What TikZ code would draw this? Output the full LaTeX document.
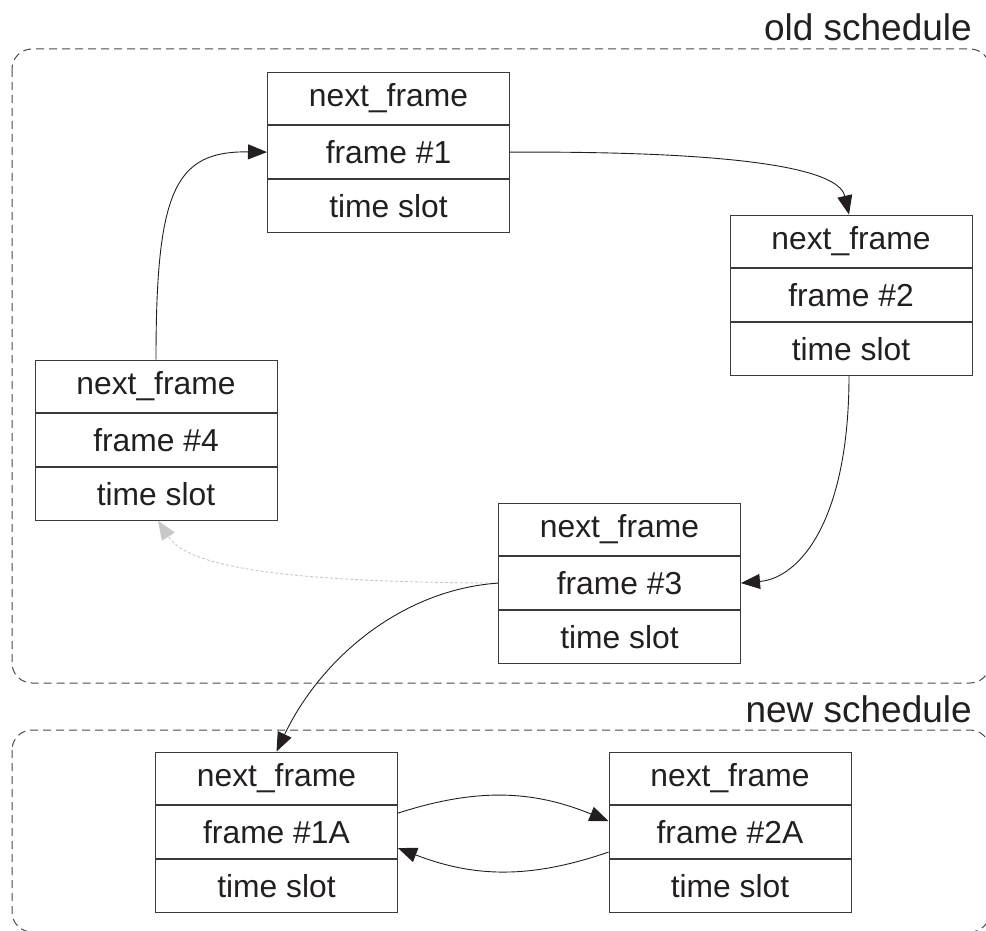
\documentclass[tikz,border=0pt]{standalone}
\usepackage{fontspec}
\setmainfont{Liberation Sans}
\usetikzlibrary{arrows.meta,positioning}

\definecolor{ink}{HTML}{231F20}
\definecolor{boxline}{HTML}{3A3A3A}
\definecolor{groupline}{HTML}{4A4A4A}
\definecolor{ghost}{HTML}{C8C8C8}

\tikzset{
  cell/.style={draw=boxline, line width=1pt, minimum width=242pt,
    minimum height=52.7pt, inner sep=0pt, text=ink,
    font=\fontsize{31.8}{36}\selectfont},
  group/.style={draw=groupline, line width=1pt, dash pattern=on 8pt off 5pt,
    rounded corners=20pt},
  grouplabel/.style={anchor=base east, inner sep=0pt, text=ink,
    font=\fontsize{37}{42}\selectfont},
  link/.style={draw=ink, line width=0.9pt,
    -{Triangle[length=19pt,width=15pt]}},
  oldlink/.style={draw=ghost, line width=0.9pt, dash pattern=on 3pt off 2pt,
    -{Triangle[length=19pt,width=15pt,fill=ghost]}},
}

\begin{document}
\begin{tikzpicture}[x=1pt,y=-1pt]
\useasboundingbox (0,0) rectangle (986,931);

% schedule groups
\draw[group] (12,49) rectangle (990,683);
\draw[group] (12,730) rectangle (990,932);
\node[grouplabel] (oldlab) at (972,41) {old schedule};
\node[grouplabel] (newlab) at (972,722) {new schedule};

% frame records: next_frame / frame / time slot
\node[cell] (f1n) at (388.5,98.4) {next\_frame};
\node[cell, below=0pt of f1n] (f1) {frame \#1};
\node[cell, below=0pt of f1] (f1t) {time slot};

\node[cell] (f2n) at (851,241.4) {next\_frame};
\node[cell, below=0pt of f2n] (f2) {frame \#2};
\node[cell, below=0pt of f2] (f2t) {time slot};

\node[cell] (f4n) at (156,386.4) {next\_frame};
\node[cell, below=0pt of f4n] (f4) {frame \#4};
\node[cell, below=0pt of f4] (f4t) {time slot};

\node[cell] (f3n) at (619.5,529.4) {next\_frame};
\node[cell, below=0pt of f3n] (f3) {frame \#3};
\node[cell, below=0pt of f3] (f3t) {time slot};

\node[cell] (f1An) at (276.5,778.4) {next\_frame};
\node[cell, below=0pt of f1An] (f1A) {frame \#1A};
\node[cell, below=0pt of f1A] (f1At) {time slot};

\node[cell] (f2An) at (730,778.4) {next\_frame};
\node[cell, below=0pt of f2An] (f2A) {frame \#2A};
\node[cell, below=0pt of f2A] (f2At) {time slot};

% old cycle
\draw[link] (f4n.north) .. controls (156,190) and (175,151) .. (f1.west);
\draw[link] (f1.east) .. controls (780,151) and (840,175) .. ([xshift=-2pt]f2n.north);
\draw[link] ([xshift=-2pt]f2t.south) .. controls (849,520) and (800,578) .. (f3.east);
\draw[oldlink] (f3.west) .. controls (300,582) and (190,570) .. ([xshift=2pt]f4t.south);

% switch to the new schedule
\draw[link] (f3.west) .. controls (400,590) and (320,660) .. (f1An.north);

% new cycle
\draw[link] ([yshift=19pt]f1A.east) to[bend left=20] ([yshift=11pt]f2A.west);
\draw[link] ([yshift=-20pt]f2A.west) to[bend left=20] ([yshift=-16pt]f1A.east);
\end{tikzpicture}
\end{document}
